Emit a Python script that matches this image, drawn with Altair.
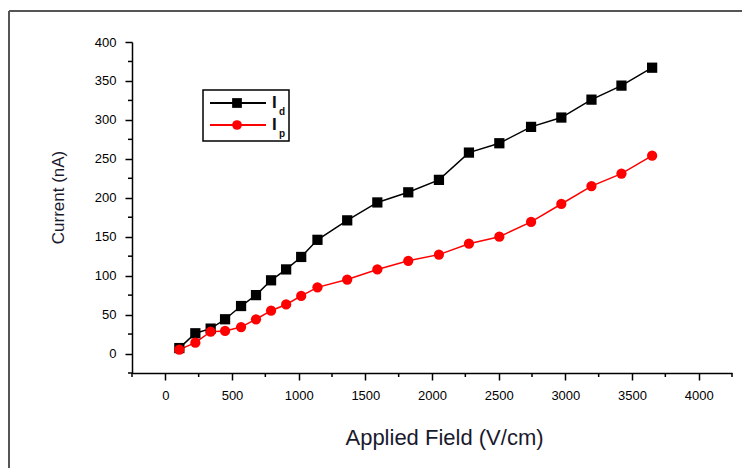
import altair as alt
import pandas as pd

# ---- data ----
field = [105, 225, 340, 448, 568, 680, 793, 906, 1019, 1141, 1364, 1590,
         1822, 2052, 2277, 2505, 2743, 2970, 3196, 3421, 3651]
i_d = [7, 26, 32, 44, 61, 75, 94, 108, 124, 146, 171, 194,
       207, 223, 258, 270, 291, 303, 326, 344, 367]
i_p = [5, 14, 28, 29, 34, 44, 55, 63, 74, 85, 95, 108,
       119, 127, 141, 150, 169, 192, 215, 231, 254]
series_names = ["Id", "Ip"]
series_colors = ["#000000", "#ff0000"]
series_shapes = ["square", "circle"]
legend_main = ["I", "I"]
legend_sub = ["d", "p"]
x_major = list(range(0, 4001, 500))
x_minor = list(range(-250, 4251, 500))
y_major = list(range(0, 401, 50))
y_minor = list(range(-25, 400, 50))

rows = []
for f, a, b in zip(field, i_d, i_p):
    rows.append({"field": f, "current": a, "series": "Id"})
    rows.append({"field": f, "current": b, "series": "Ip"})
df = pd.DataFrame(rows)
one = pd.DataFrame({"k": [0]})
xminor_df = pd.DataFrame({"field": x_minor})
yminor_df = pd.DataFrame({"current": y_minor})

FONT = "Liberation Sans"

x_scale = alt.Scale(domain=[-250, 4250], nice=False, zero=False)
y_scale = alt.Scale(domain=[-25, 400], nice=False, zero=False)

x_enc = alt.X(
    "field:Q", scale=x_scale,
    axis=alt.Axis(
        values=x_major, tickSize=7, labelOverlap=False,
        title="Applied Field (V/cm)",
        titleX=312, titleY=64, titleBaseline="middle",
        titleFontSize=22, labelPadding=9, format="d",
    ),
)
y_enc = alt.Y(
    "current:Q", scale=y_scale,
    axis=alt.Axis(
        values=y_major, tickSize=7, labelOverlap=False,
        title="Current (nA)",
        titleX=-74, titleY=155, titleBaseline="middle", titleAngle=-90,
        titleFontSize=17, labelPadding=9, format="d",
    ),
)
color_enc = alt.Color("series:N", scale=alt.Scale(domain=series_names, range=series_colors), legend=None)
shape_enc = alt.Shape("series:N", scale=alt.Scale(domain=series_names, range=series_shapes), legend=None)

base = alt.Chart(df)
lines = base.mark_line(strokeWidth=1.5).encode(x=x_enc, y=y_enc, color=color_enc, detail="series:N")
points = base.mark_point(filled=True, opacity=1, size=105).encode(
    x="field:Q", y="current:Q", color=color_enc, shape=shape_enc
)

# minor ticks
x_minor_ticks = alt.Chart(xminor_df).mark_rule(color="black", strokeWidth=1.5).encode(
    x=alt.X("field:Q", scale=x_scale), y=alt.value(331), y2=alt.value(335))
y_minor_ticks = alt.Chart(yminor_df).mark_rule(color="black", strokeWidth=1.5).encode(
    y=alt.Y("current:Q", scale=y_scale), x=alt.value(0), x2=alt.value(-4))

# outer frame
frame_top = alt.Chart(one).mark_rule(color="#555555", strokeWidth=2).encode(
    x=alt.value(-123), x2=alt.value(700), y=alt.value(-31))
frame_left = alt.Chart(one).mark_rule(color="#555555", strokeWidth=2).encode(
    x=alt.value(-123), y=alt.value(-31), y2=alt.value(500))

# legend
leg_box = alt.Chart(one).mark_rect(fill="white", stroke="black", strokeWidth=1.5).encode(
    x=alt.value(71), x2=alt.value(157), y=alt.value(48), y2=alt.value(99))
leg_layers = [leg_box]
for i, (col, shp, m, s) in enumerate(zip(series_colors, series_shapes, legend_main, legend_sub)):
    yy = 61 + 22 * i
    leg_layers.append(alt.Chart(one).mark_rule(color=col, strokeWidth=2).encode(
        x=alt.value(78), x2=alt.value(134), y=alt.value(yy)))
    leg_layers.append(alt.Chart(one).mark_point(shape=shp, filled=True, color=col, opacity=1, size=95).encode(
        x=alt.value(105), y=alt.value(yy)))
    leg_layers.append(alt.Chart(one).mark_text(text=m, font=FONT, fontSize=17, fontWeight="bold",
                                                align="left", baseline="middle", color="#111").encode(
        x=alt.value(140), y=alt.value(yy)))
    leg_layers.append(alt.Chart(one).mark_text(text=s, font=FONT, fontSize=10, fontWeight="bold",
                                                align="left", baseline="middle", color="#111").encode(
        x=alt.value(147), y=alt.value(yy + 9)))

chart = alt.layer(frame_top, frame_left, lines, points, x_minor_ticks, y_minor_ticks, *leg_layers).properties(
    width=600, height=331,
    autosize=alt.AutoSizeParams(type="none"),
    padding={"left": 132, "top": 42, "right": 10, "bottom": 95},
    background="white",
).configure_view(stroke=None).configure_axis(
    grid=False,
    domainColor="black", domainWidth=1.5,
    tickColor="black", tickWidth=1.5,
    labelFont=FONT, labelFontSize=13, labelColor="black",
    titleFont=FONT, titleFontWeight="normal", titleColor="#1a1a2e",
)

chart.save("out.html", embed_options={"renderer": "svg", "actions": False})
